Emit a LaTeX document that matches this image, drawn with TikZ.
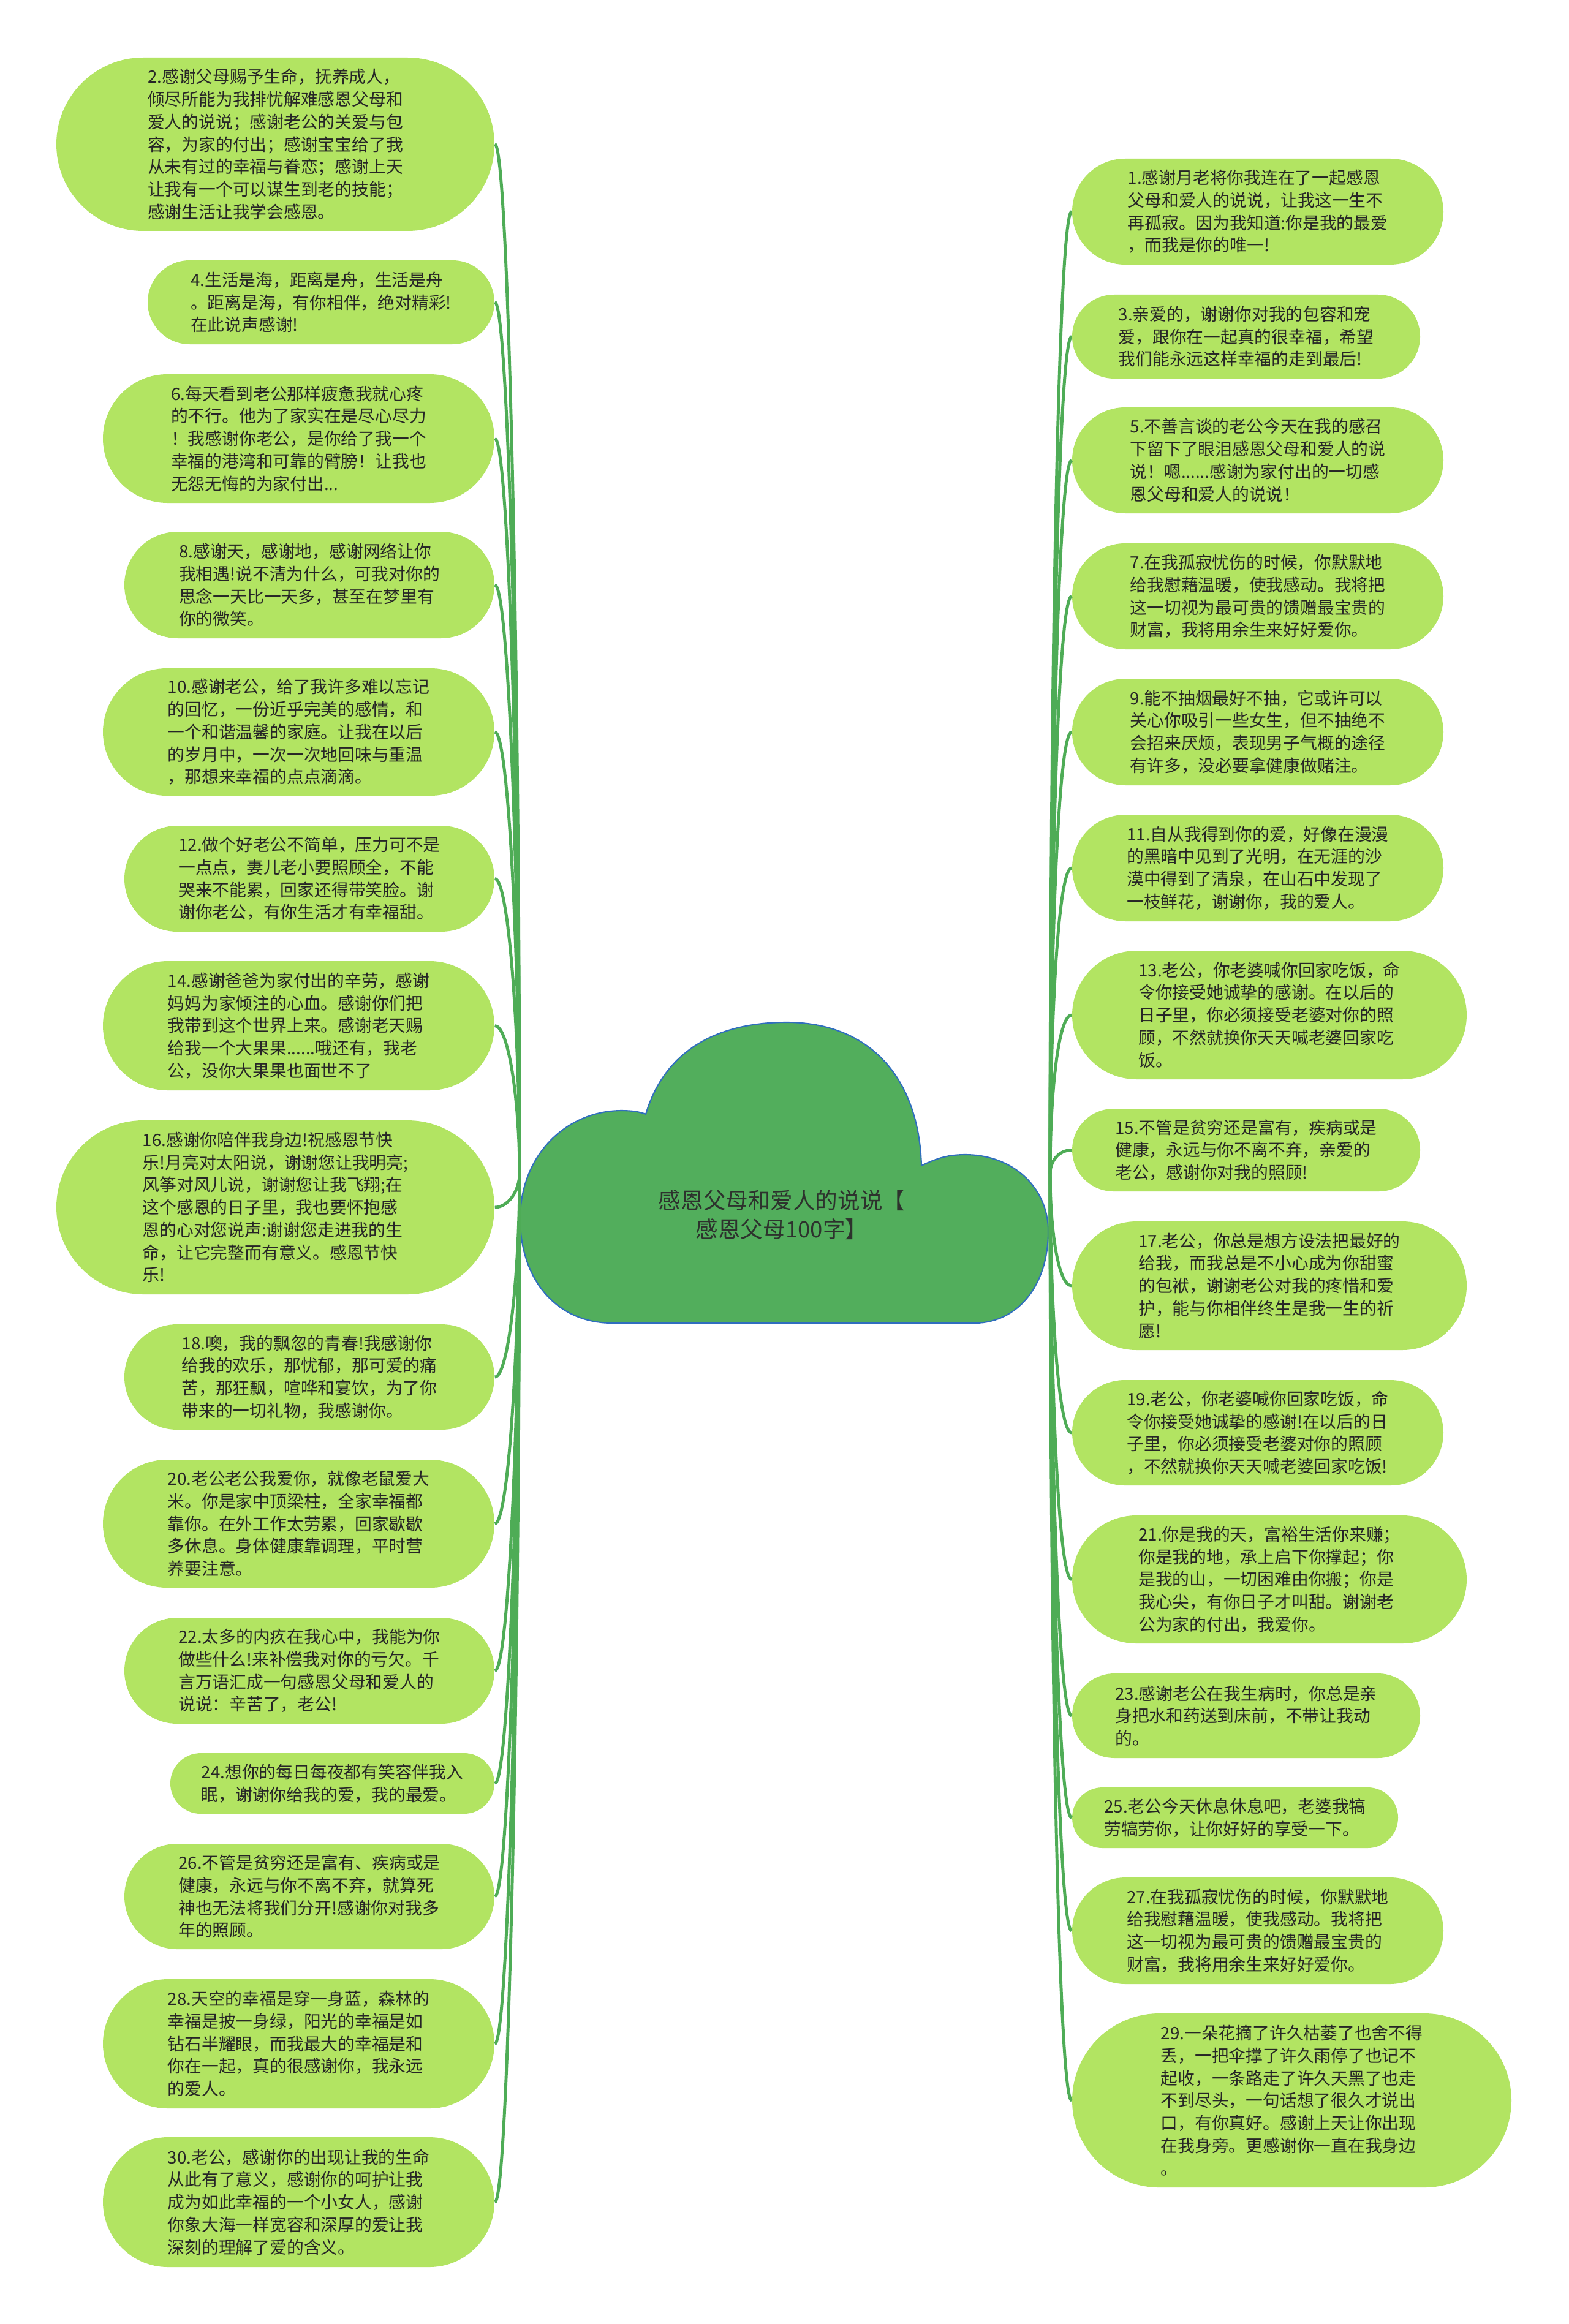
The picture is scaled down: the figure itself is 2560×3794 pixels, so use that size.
\documentclass[tikz,border=0pt]{standalone}
\usepackage{fontspec}
\setmainfont{Noto Sans CJK SC}
\usetikzlibrary{calc}
\definecolor{bubfill}{RGB}{178,228,98}
\definecolor{conncol}{RGB}{78,172,86}
\definecolor{cloudfill}{RGB}{82,174,92}
\definecolor{cloudline}{RGB}{48,110,190}
\definecolor{txtcol}{RGB}{38,38,38}
\definecolor{cloudtxt}{RGB}{45,50,45}
% bubble: name, x1, y1, x2, y2, text
\newcommand\bub[6]{%
  \pgfmathsetmacro\bw{(#4-#2)*0.01}%
  \pgfmathsetmacro\bh{(#5-#3)*0.01}%
  \pgfmathsetmacro\br{(#5-#3)*0.005}%
  \fill[bubfill, rounded corners=\br cm] (#2,#3) rectangle (#4,#5);
  \node[bubtext, minimum width=\bw cm, minimum height=\bh cm] (#1) at ({(#2+#4)/2},{(#3+#5)/2}) {#6};
}
% connectors: node name, node centre y
\newcommand\linkL[2]{%
  \pgfmathsetmacro\cdy{(#2-1916)*0.5}%
  \draw[conn] (oL) .. controls +(0,\cdy) and +(22,0) .. (#1.east);
}
\newcommand\linkR[2]{%
  \pgfmathsetmacro\cdy{(#2-1916)*0.5}%
  \draw[conn] (oR) .. controls +(0,\cdy) and +(-22,0) .. (#1.west);
}
\begin{document}
\begin{tikzpicture}[x=0.01cm, y=-0.01cm,
  conn/.style={draw=conncol, line width=1.4pt},
  bubtext/.style={inner sep=0pt, align=left, text=txtcol, font=\fontsize{7.9pt}{10.45pt}\selectfont},
  cloudtext/.style={inner sep=0pt, align=center, text=cloudtxt, font=\fontsize{10.4pt}{13.5pt}\selectfont}]
\useasboundingbox (0,0) rectangle (2560,3794);
\fill[white] (0,0) rectangle (2560,3794);

% central cloud
\filldraw[fill=cloudfill, draw=cloudline, line width=0.6pt]
  (1000,2160) .. controls (905,2160) and (849,2085) .. (849,1990)
  .. controls (849,1885) and (925,1813) .. (1015,1813)
  .. controls (1030,1813) and (1045,1815) .. (1054,1819)
  .. controls (1085,1715) and (1170,1669) .. (1284,1669)
  .. controls (1420,1669) and (1500,1760) .. (1504,1903)
  .. controls (1530,1890) and (1550,1885) .. (1575,1885)
  .. controls (1655,1885) and (1711,1940) .. (1711,2010)
  .. controls (1711,2100) and (1660,2160) .. (1590,2160)
  -- cycle;
\node[cloudtext] (root) at (1276,1983) {感恩父母和爱人的说说【\\感恩父母100字】};
\coordinate (oL) at (848,1916);
\coordinate (oR) at (1714,1916);

% left column
\bub{l2}{92}{94}{807}{377}{2.感谢父母赐予生命，抚养成人，\\倾尽所能为我排忧解难感恩父母和\\爱人的说说；感谢老公的关爱与包\\容，为家的付出；感谢宝宝给了我\\从未有过的幸福与眷恋；感谢上天\\让我有一个可以谋生到老的技能；\\感谢生活让我学会感恩。}
\bub{l4}{241}{425}{807}{562}{4.生活是海，距离是舟，生活是舟\\。距离是海，有你相伴，绝对精彩!\\在此说声感谢!}
\bub{l6}{168}{611}{807}{821}{6.每天看到老公那样疲惫我就心疼\\的不行。他为了家实在是尽心尽力\\！我感谢你老公，是你给了我一个\\幸福的港湾和可靠的臂膀！让我也\\无怨无悔的为家付出...}
\bub{l8}{203}{868}{807}{1042}{8.感谢天，感谢地，感谢网络让你\\我相遇!说不清为什么，可我对你的\\思念一天比一天多，甚至在梦里有\\你的微笑。}
\bub{l10}{168}{1091}{807}{1299}{10.感谢老公，给了我许多难以忘记\\的回忆，一份近乎完美的感情，和\\一个和谐温馨的家庭。让我在以后\\的岁月中，一次一次地回味与重温\\，那想来幸福的点点滴滴。}
\bub{l12}{203}{1348}{807}{1521}{12.做个好老公不简单，压力可不是\\一点点，妻儿老小要照顾全，不能\\哭来不能累，回家还得带笑脸。谢\\谢你老公，有你生活才有幸福甜。}
\bub{l14}{168}{1569}{807}{1780}{14.感谢爸爸为家付出的辛劳，感谢\\妈妈为家倾注的心血。感谢你们把\\我带到这个世界上来。感谢老天赐\\给我一个大果果......哦还有，我老\\公，没你大果果也面世不了}
\bub{l16}{92}{1829}{807}{2113}{16.感谢你陪伴我身边!祝感恩节快\\乐!月亮对太阳说，谢谢您让我明亮;\\风筝对风儿说，谢谢您让我飞翔;在\\这个感恩的日子里，我也要怀抱感\\恩的心对您说声:谢谢您走进我的生\\命，让它完整而有意义。感恩节快\\乐!}
\bub{l18}{203}{2162}{807}{2334}{18.噢，我的飘忽的青春!我感谢你\\给我的欢乐，那忧郁，那可爱的痛\\苦，那狂飘，喧哗和宴饮，为了你\\带来的一切礼物，我感谢你。}
\bub{l20}{168}{2383}{807}{2592}{20.老公老公我爱你，就像老鼠爱大\\米。你是家中顶梁柱，全家幸福都\\靠你。在外工作太劳累，回家歇歇\\多休息。身体健康靠调理，平时营\\养要注意。}
\bub{l22}{203}{2641}{807}{2814}{22.太多的内疚在我心中，我能为你\\做些什么!来补偿我对你的亏欠。千\\言万语汇成一句感恩父母和爱人的\\说说：辛苦了，老公!}
\bub{l24}{278}{2862}{807}{2961}{24.想你的每日每夜都有笑容伴我入\\眠，谢谢你给我的爱，我的最爱。}
\bub{l26}{203}{3010}{807}{3182}{26.不管是贫穷还是富有、疾病或是\\健康，永远与你不离不弃，就算死\\神也无法将我们分开!感谢你对我多\\年的照顾。}
\bub{l28}{168}{3231}{807}{3442}{28.天空的幸福是穿一身蓝，森林的\\幸福是披一身绿，阳光的幸福是如\\钻石半耀眼，而我最大的幸福是和\\你在一起，真的很感谢你，我永远\\的爱人。}
\bub{l30}{168}{3489}{807}{3701}{30.老公，感谢你的出现让我的生命\\从此有了意义，感谢你的呵护让我\\成为如此幸福的一个小女人，感谢\\你象大海一样宽容和深厚的爱让我\\深刻的理解了爱的含义。}

% right column
\bub{r1}{1750}{259}{2356}{432}{1.感谢月老将你我连在了一起感恩\\父母和爱人的说说，让我这一生不\\再孤寂。因为我知道:你是我的最爱\\，而我是你的唯一!}
\bub{r3}{1750}{481}{2318}{618}{3.亲爱的，谢谢你对我的包容和宠\\爱，跟你在一起真的很幸福，希望\\我们能永远这样幸福的走到最后!}
\bub{r5}{1750}{665}{2356}{838}{5.不善言谈的老公今天在我的感召\\下留下了眼泪感恩父母和爱人的说\\说！嗯......感谢为家付出的一切感\\恩父母和爱人的说说！}
\bub{r7}{1750}{887}{2356}{1060}{7.在我孤寂忧伤的时候，你默默地\\给我慰藉温暖，使我感动。我将把\\这一切视为最可贵的馈赠最宝贵的\\财富，我将用余生来好好爱你。}
\bub{r9}{1750}{1108}{2356}{1282}{9.能不抽烟最好不抽，它或许可以\\关心你吸引一些女生，但不抽绝不\\会招来厌烦，表现男子气概的途径\\有许多，没必要拿健康做赌注。}
\bub{r11}{1750}{1330}{2356}{1504}{11.自从我得到你的爱，好像在漫漫\\的黑暗中见到了光明，在无涯的沙\\漠中得到了清泉，在山石中发现了\\一枝鲜花，谢谢你，我的爱人。}
\bub{r13}{1750}{1552}{2394}{1762}{13.老公，你老婆喊你回家吃饭，命\\令你接受她诚挚的感谢。在以后的\\日子里，你必须接受老婆对你的照\\顾，不然就换你天天喊老婆回家吃\\饭。}
\bub{r15}{1750}{1810}{2318}{1945}{15.不管是贫穷还是富有，疾病或是\\健康，永远与你不离不弃，亲爱的\\老公，感谢你对我的照顾!}
\bub{r17}{1750}{1994}{2394}{2204}{17.老公，你总是想方设法把最好的\\给我，而我总是不小心成为你甜蜜\\的包袱，谢谢老公对我的疼惜和爱\\护，能与你相伴终生是我一生的祈\\愿!}
\bub{r19}{1750}{2253}{2356}{2425}{19.老公，你老婆喊你回家吃饭，命\\令你接受她诚挚的感谢!在以后的日\\子里，你必须接受老婆对你的照顾\\，不然就换你天天喊老婆回家吃饭!}
\bub{r21}{1750}{2474}{2394}{2683}{21.你是我的天，富裕生活你来赚；\\你是我的地，承上启下你撑起；你\\是我的山，一切困难由你搬；你是\\我心尖，有你日子才叫甜。谢谢老\\公为家的付出，我爱你。}
\bub{r23}{1750}{2732}{2318}{2870}{23.感谢老公在我生病时，你总是亲\\身把水和药送到床前，不带让我动\\的。}
\bub{r25}{1750}{2918}{2282}{3017}{25.老公今天休息休息吧，老婆我犒\\劳犒劳你，让你好好的享受一下。}
\bub{r27}{1750}{3065}{2356}{3239}{27.在我孤寂忧伤的时候，你默默地\\给我慰藉温暖，使我感动。我将把\\这一切视为最可贵的馈赠最宝贵的\\财富，我将用余生来好好爱你。}
\bub{r29}{1750}{3287}{2467}{3571}{29.一朵花摘了许久枯萎了也舍不得\\丢，一把伞撑了许久雨停了也记不\\起收，一条路走了许久天黑了也走\\不到尽头，一句话想了很久才说出\\口，有你真好。感谢上天让你出现\\在我身旁。更感谢你一直在我身边\\。}

% connectors
\linkL{l2}{235}
\linkL{l4}{493}
\linkL{l6}{716}
\linkL{l8}{955}
\linkL{l10}{1195}
\linkL{l12}{1434}
\linkL{l14}{1674}
\linkL{l16}{1971}
\linkL{l18}{2248}
\linkL{l20}{2487}
\linkL{l22}{2727}
\linkL{l24}{2911}
\linkL{l26}{3096}
\linkL{l28}{3336}
\linkL{l30}{3595}
\linkR{r1}{345}
\linkR{r3}{549}
\linkR{r5}{751}
\linkR{r7}{973}
\linkR{r9}{1195}
\linkR{r11}{1417}
\linkR{r13}{1657}
\linkR{r15}{1877}
\linkR{r17}{2099}
\linkR{r19}{2339}
\linkR{r21}{2578}
\linkR{r23}{2801}
\linkR{r25}{2967}
\linkR{r27}{3152}
\linkR{r29}{3429}
\end{tikzpicture}
\end{document}
